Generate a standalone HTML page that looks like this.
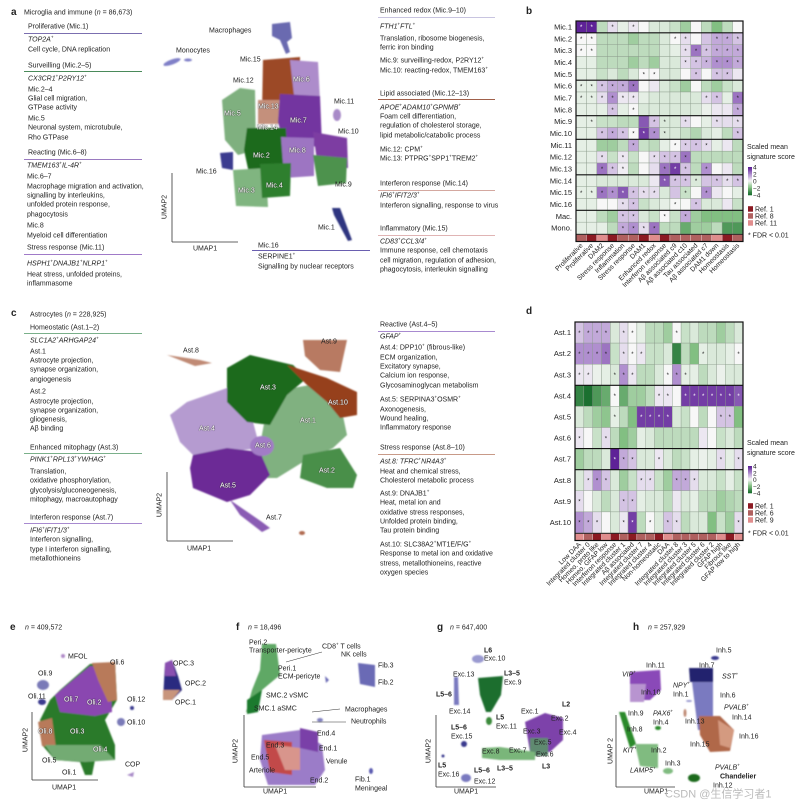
<!DOCTYPE html>
<html><head><meta charset="utf-8">
<style>
body{margin:0;background:#fff;}
#root{position:relative;width:810px;height:805px;overflow:hidden;font-family:"Liberation Sans","Noto Sans CJK SC",sans-serif;color:#222;}
.t{position:absolute;font-size:7px;line-height:9px;white-space:nowrap;transform:translateY(-4.5px);}
.t sup{font-size:4.5px;vertical-align:3px;line-height:0;}
.pl{position:absolute;font-size:10px;font-weight:bold;transform:translateY(-6px);}
.hl{position:absolute;height:1.2px;}
svg{position:absolute;left:0;top:0;}
</style></head>
<body>
<div id="root">
<svg id="g" width="810" height="805">
<defs><filter id="soft" x="-5%" y="-5%" width="110%" height="110%"><feGaussianBlur stdDeviation="0.7"/></filter></defs>
<!-- panel a UMAP -->
<g filter="url(#soft)">
<path d="M272,24 L290,22 L292,38 L287,42 L290,52 L286,54 L280,40 L272,36Z" fill="#6a6ab0"/>
<ellipse cx="172" cy="62" rx="9" ry="2.5" fill="#8080c8" transform="rotate(-20 172 62)"/>
<ellipse cx="188" cy="60" rx="4" ry="1.5" fill="#8080c8"/>
<path d="M222,100 L240,88 L255,90 L256,150 L238,155 L225,140Z" fill="#7fb07f"/>
<path d="M263,60 L300,57 L300,112 L262,112Z" fill="#9c4a25"/>
<path d="M290,60 L318,62 L320,100 L295,104Z" fill="#ad8ccb"/>
<path d="M258,100 L284,100 L284,124 L258,124Z" fill="#c4907c"/>
<path d="M280,94 L320,96 L322,146 L285,148 L278,122Z" fill="#7334a0"/>
<path d="M247,128 L286,128 L288,175 L250,178 L244,150Z" fill="#1c6b1c"/>
<path d="M281,137 L314,138 L314,176 L284,178Z" fill="#9d74c2"/>
<path d="M313,132 L347,138 L348,168 L318,168Z" fill="#7d3ea2"/>
<path d="M313,155 L347,158 L346,183 L318,186Z" fill="#4d924d"/>
<path d="M233,170 L266,168 L268,207 L236,206Z" fill="#80b580"/>
<path d="M260,164 L291,163 L290,196 L262,198Z" fill="#2f7f2f"/>
<path d="M220,153 L233,152 L233,170 L222,168Z" fill="#3b3b8f"/>
<ellipse cx="337" cy="115" rx="4" ry="6" fill="#a88ac8"/>
<path d="M332,208 L340,208 L352,240 L348,241 L334,215Z" fill="#2f3580"/>
</g>
<line x1="172" y1="173" x2="172" y2="242" stroke="#333" stroke-width="0.8"/>
<line x1="172" y1="242" x2="238" y2="242" stroke="#333" stroke-width="0.8"/>
<!-- panel c UMAP -->
<g filter="url(#soft)">
<path d="M167,355 L200,360 L212,363 L195,366Z" fill="#c08a74"/>
<path d="M303,340 L347,340 L340,372 L320,370 L305,356Z" fill="#b87a62"/>
<path d="M170,415 L187,402 L227,388 L253,422 L260,448 L227,452 L193,455 L180,442Z" fill="#b59bd0"/>
<path d="M270,392 L310,385 L340,402 L347,435 L333,448 L303,462 L277,478 L247,478 L260,445Z" fill="#80b180"/>
<path d="M227,368 L250,355 L293,365 L307,378 L287,395 L270,425 L247,422 L227,402Z" fill="#1e6b1e"/>
<path d="M287,365 L327,378 L357,392 L357,415 L340,418 L327,402 L307,385Z" fill="#963f1c"/>
<path d="M303,455 L340,448 L357,475 L353,488 L327,488 L300,478Z" fill="#4a8f4a"/>
<path d="M193,455 L227,448 L260,452 L270,475 L250,495 L227,502 L193,488 L190,468Z" fill="#6c2c96"/>
<path d="M230,500 L262,522 L270,528 L262,532 L240,515Z" fill="#8a5cb4"/>
<ellipse cx="262" cy="446" rx="12" ry="10" fill="#a27cc6"/>
<ellipse cx="302" cy="533" rx="3" ry="2" fill="#b06a50"/>
</g>
<line x1="167" y1="472" x2="167" y2="541" stroke="#333" stroke-width="0.8"/>
<line x1="167" y1="541" x2="233" y2="541" stroke="#333" stroke-width="0.8"/>
<!-- panel e -->
<g filter="url(#soft)">
<path d="M60,690 L90,664 L115,662 L117,700 L105,720 L115,745 L115,760 L95,760 L92,775 L85,775 L80,762 L55,760 L42,745 L40,720 L50,700Z" fill="#2a7a2a"/>
<path d="M55,695 L90,666 L110,668 L112,712 L95,716 L60,712Z" fill="#8a46b0"/>
<path d="M92,663 L115,662 L117,700 L108,702 L98,680Z" fill="#b87a5a"/>
<path d="M38,722 L52,718 L56,748 L42,746Z" fill="#b87a5a"/>
<path d="M45,745 L100,745 L115,760 L85,762 L55,760Z" fill="#73ab73"/>
<ellipse cx="43" cy="685" rx="6" ry="5" fill="#7a7ab8"/>
<ellipse cx="42" cy="702" rx="4" ry="3" fill="#3b3b8f"/>
<circle cx="63" cy="656" r="2" fill="#b08ac8"/>
<circle cx="132" cy="708" r="2" fill="#3b3b8f"/>
<ellipse cx="121" cy="722" rx="4" ry="4" fill="#7a7ab8"/>
<path d="M165,663 L172,660 L178,676 L182,690 L172,700 L163,700Z" fill="#2a2a80"/>
<path d="M165,663 L172,660 L176,676 L165,676Z" fill="#8a50b0"/>
<path d="M163,690 L180,690 L172,700 L163,700Z" fill="#c8957c"/>
<path d="M127,775 L134,772 L133,777Z" fill="#a88ac8"/>
</g>
<line x1="32" y1="712" x2="32" y2="780" stroke="#333" stroke-width="0.8"/>
<line x1="32" y1="780" x2="98" y2="780" stroke="#333" stroke-width="0.8"/>
<!-- panel f -->
<g filter="url(#soft)">
<path d="M262,644 L276,644 L280,675 L262,690 L252,712 L246,712 L252,690 L260,670Z" fill="#5fa865"/>
<path d="M247,700 L262,690 L258,712 L247,714Z" fill="#1e7a2e"/>
<path d="M262,735 L300,730 L322,745 L325,770 L315,785 L268,785 L260,760Z" fill="#9b7cc8"/>
<path d="M300,728 L318,732 L318,752 L300,748Z" fill="#7a40a8"/>
<path d="M264,740 L292,742 L292,775 L270,772Z" fill="#c24848"/>
<path d="M275,745 L300,748 L300,770 L285,770Z" fill="#d8958c"/>
<path d="M358,663 L375,665 L375,687 L360,684Z" fill="#6a6ab5"/>
<path d="M325,676 L329,680 L326,683Z" fill="#6a6ab5"/>
<ellipse cx="320" cy="720" rx="3" ry="2" fill="#8080c0"/>
<ellipse cx="371" cy="771" rx="2" ry="3" fill="#5a5ab0"/>
</g>
<line x1="286" y1="662" x2="322" y2="652" stroke="#333" stroke-width="0.5"/>
<line x1="312" y1="712" x2="340" y2="709" stroke="#333" stroke-width="0.5"/>
<line x1="312" y1="722" x2="346" y2="722" stroke="#333" stroke-width="0.5"/>
<line x1="244" y1="715" x2="244" y2="787" stroke="#333" stroke-width="0.8"/>
<line x1="244" y1="787" x2="316" y2="787" stroke="#333" stroke-width="0.8"/>
<!-- panel g -->
<g filter="url(#soft)">
<ellipse cx="478" cy="659" rx="6" ry="4" fill="#9a9ad0"/>
<path d="M454,677 L458,677 L459,705 L454,705Z" fill="#7a7ac0"/>
<path d="M478,678 L503,676 L501,695 L491,712 L486,712 L480,695Z" fill="#1e6e2e"/>
<ellipse cx="489" cy="721" rx="3" ry="4" fill="#3a8a3a"/>
<ellipse cx="464" cy="744" rx="3" ry="3" fill="#3b3b8f"/>
<ellipse cx="443" cy="756" rx="1.5" ry="1.5" fill="#3b3b8f"/>
<ellipse cx="466" cy="778" rx="5" ry="4" fill="#7a7ac0"/>
<path d="M525,722 L545,713 L563,718 L563,740 L550,752 L530,752Z" fill="#7d42aa"/>
<path d="M530,738 L548,738 L548,756 L530,756Z" fill="#5e8a70"/>
<path d="M482,748 L500,747 L535,752 L535,760 L500,760 L482,758Z" fill="#7ab67a"/>
</g>
<line x1="436" y1="715" x2="436" y2="787" stroke="#333" stroke-width="0.8"/>
<line x1="436" y1="787" x2="496" y2="787" stroke="#333" stroke-width="0.8"/>
<!-- panel h -->
<g filter="url(#soft)">
<path d="M630,672 L660,670 L661,690 L650,700 L640,700 L630,690Z" fill="#8a4ab8"/>
<path d="M630,684 L646,684 L644,702 L630,702Z" fill="#b894d0"/>
<path d="M689,668 L713,668 L713,682 L690,682Z" fill="#22236e"/>
<path d="M692,682 L713,682 L713,730 L698,730Z" fill="#7a7ac0"/>
<path d="M699,716 L720,716 L734,730 L730,751 L710,752 L700,735Z" fill="#b0674a"/>
<path d="M718,720 L734,730 L730,748 L720,745Z" fill="#d49a80"/>
<ellipse cx="715" cy="658" rx="4" ry="2" fill="#3b3b8f"/>
<path d="M619,712 L625,712 L636,744 L630,748Z" fill="#2a8a2a"/>
<path d="M635,744 L658,744 L658,768 L640,766Z" fill="#80bb80"/>
<ellipse cx="658" cy="728" rx="3" ry="2" fill="#2a8a2a"/>
<ellipse cx="668" cy="771" rx="5" ry="3" fill="#80bb80"/>
<ellipse cx="694" cy="778" rx="6" ry="4" fill="#1e6b1e"/>
<ellipse cx="685" cy="713" rx="1.5" ry="4" fill="#c08a74"/>
<ellipse cx="689" cy="701" rx="3" ry="1" fill="#9a9ad0"/>
</g>
<line x1="616" y1="715" x2="616" y2="787" stroke="#333" stroke-width="0.8"/>
<line x1="616" y1="787" x2="675" y2="787" stroke="#333" stroke-width="0.8"/>
<g id="hmb"></g>
<g id="hmd"></g>
</svg>
</div>
<script>
// ---------- data for heatmap b ----------
const bRows=["Mic.1","Mic.2","Mic.3","Mic.4","Mic.5","Mic.6","Mic.7","Mic.8","Mic.9","Mic.10","Mic.11","Mic.12","Mic.13","Mic.14","Mic.15","Mic.16","Mac.","Mono."];
const bCols=["Proliferative","Proliferative","DAM2","Stress response","Inflammation","Stress response","DAM1","Enhanced redox","Interferon response","Aβ associated c9","Aβ associated c10","Tau associated","Aβ associated c7","DAM1 down","Homeostasis","Homeostasis"];
const bRefs=[8,1,11,1,8,8,1,11,1,8,8,8,8,11,1,8];
const bVals=[
[4,4,-1,0.5,-0.3,0.3,0,-0.5,-0.5,-0.8,-1.5,0,-1,-2,-1,0],
[0,0,-1,-1,-1,-1.5,-1,-1,-0.5,0,0.5,0,1,1.5,1.5,1],
[0,0,-1,-1,-1,-1,-1,-1,-0.5,-0.3,0.5,2.5,1,1.5,1.5,1.5],
[-0.3,-0.3,-1,-1,-1,-1.5,-1,-1.5,-0.5,-0.5,0.5,1,1.3,2,2,1.5],
[-0.3,-0.3,-0.8,-0.5,-1,-0.5,0,0,-0.5,-0.5,0,1,0,1,1,0.3],
[-0.3,-0.3,1,1.5,1.5,2.5,0,0.3,-0.5,-0.8,-1.5,0,-1,-1.5,-0.8,-0.5],
[-0.3,-0.3,0.5,2,0.3,0.3,-0.3,-0.5,-0.5,-0.5,-0.5,-0.5,0.5,1,-0.3,2.5],
[-0.3,-0.3,-0.3,1,-0.3,0,-0.5,-0.5,-0.5,-0.5,-0.5,-0.5,-0.2,0.3,0.3,1.5],
[-0.3,-0.3,-0.8,-0.8,-1,-1,3,1,-0.5,-0.5,0.5,0,-0.3,0.5,0.5,0.5],
[-0.3,-0.3,1,1.5,1,0,3.5,2,-0.5,-0.5,-0.8,-1.2,-0.5,-0.3,-1,1],
[-0.3,-0.3,-1.5,-1.5,-1,1.5,-0.8,-1,-0.3,0,0.8,1,0.5,-0.3,0.3,-1],
[-0.3,-0.3,0.5,-0.8,0.3,-0.8,0,0.5,1,1,2.5,-1,-1,-1,-1,-1],
[-0.3,-0.3,2.5,1,0.2,-1,0,0.5,2.5,3.5,1,-1,2,0,0.3,-1],
[-0.3,-0.3,-0.5,-0.5,-0.5,-0.5,-0.5,0.3,3,1,1,-0.5,1,1,0.5,1],
[-0.3,-0.3,2.5,2,3,1,0.5,0.5,-0.5,1,-0.8,0,2,0.3,0,-0.3],
[-0.3,-0.3,0,0,0.5,1,-0.8,-0.5,-0.3,0,0,1,-0.5,-0.5,0.3,-0.8],
[-0.3,-0.3,-1,-1.5,1,1,-0.5,-0.8,0,-0.8,1.5,-1.5,-2,-2,-2,-2],
[-0.3,-0.3,-0.3,-1,1.5,2,0.5,2.5,-1,-1,-2.5,-1.5,-1.5,-1,-3,-3]];
const bStars=[[0,1,3,5],[0,1,9,10,13,14,15],[0,1,10,11,12,13,14,15],[10,11,12,13,14,15],[6,7,11,13,14],[0,1,2,3,4,5],[0,1,2,3,4,5,12,13,15],[3,5,15],[1,7,8,10,13,15],[2,3,4,5,6,7,8,15],[5,9,10,11,12],[2,4,7,8,9,10],[2,3,4,8,9,10,12],[8,9,10,11,13,14,15],[0,1,2,3,4,5,6,7,10,12],[4,5,9,11],[4,5,8,10],[4,5,6,7]];
const bGroups=[1,5,8,10,13,16];
const bRefNames=["Ref. 1","Ref. 8","Ref. 11"];
// ---------- data for heatmap d ----------
const dRows=["Ast.1","Ast.2","Ast.3","Ast.4","Ast.5","Ast.6","Ast.7","Ast.8","Ast.9","Ast.10"];
const dCols=["Low DAA","Integrated cluster 0","Homeo. proto like","Homeo. GFAP low","Interferon response","Integrated cluster 1","Aβ associated","Integrated cluster 7","Integrated cluster 4","Non-homeostatic","DAA","Integrated cluster 8","Integrated cluster 3","Integrated cluster 5","Integrated cluster 6","Integrated cluster 2","GFAP high","Fibrous like","GFAP low to high"];
const dRefs=[9,6,1,9,1,6,1,6,6,1,9,6,6,6,6,6,9,1,9];
const dVals=[
[1,1.5,1.5,1.5,-0.5,0.5,0,-0.3,-1,-1,-1.5,0,-0.8,-0.5,-1,-1,-1.5,-1,-0.5],
[2,2,2,2.5,-0.8,0.5,0,0.3,-0.8,-0.8,-0.5,-3.5,-1,-2,-0.3,-0.5,-0.5,-0.3,0],
[0.3,0.3,-0.2,-0.3,-0.5,2,0.3,-1,-1,-0.5,0,2,-0.3,-0.3,-1,-0.5,-0.2,-0.5,-0.5],
[-3.5,-4,-3,-2.5,0,-2.5,-1.5,-1.5,-1,0.3,0.3,0,3.5,3.5,3.5,3.5,3.5,3.5,3],
[-0.5,-1,-1.5,-1.8,-0.3,-1,-2,3.5,3.5,3.5,3.5,-0.5,-0.8,0,-1,0,1,1,-2],
[0.3,0,-0.8,0.5,-1,-2,-1.5,-0.3,-0.5,-1,-1,-1,-1,-1,0.3,0,-0.8,-0.5,-1],
[-1.5,-1,-1,-0.5,4,1.5,1,-0.5,-0.5,0.3,-0.5,-1,-0.8,-0.3,-0.2,-0.3,0.5,-0.3,0.5],
[-0.5,0.5,2,1,-0.5,-1.5,-0.8,0.5,0.5,-0.8,-1.5,1.5,1.5,0.5,-0.5,-0.5,-0.8,-0.3,-0.8],
[0.5,0,-0.5,-1,-0.5,1,1,-0.3,-0.5,-0.5,-1,0.3,-0.5,-0.3,-1,-1,-1.5,-1.2,-1],
[2,1.5,0.5,0,-0.5,0.3,3.5,-1,0,-0.5,1,0.5,-1,-0.5,-0.5,-2,-0.8,-1.5,0.5]];
const dStars=[[0,1,2,3,5,6,11],[0,1,2,3,5,6,7,14,18],[0,1,4,5,6,10,11,12],[4,9,10,12,13,14,15,16,17,18],[4,7,8,9,10,16,17],[0,3],[4,5,6,9,16,18],[1,2,3,7,8,11,12,13],[0,5,6],[0,1,2,5,6,8,10,11,18]];
const dGroups=[3,6,7];
const dRefNames=["Ref. 1","Ref. 6","Ref. 9"];

const NS="http://www.w3.org/2000/svg";
const refColor={1:"#8b1a22",6:"#b0605f",8:"#b0605f",9:"#e08d8d",11:"#e08d8d"};
function lerp(a,b,t){return Math.round(a+(b-a)*t);}
function hex(c){return [parseInt(c.substr(1,2),16),parseInt(c.substr(3,2),16),parseInt(c.substr(5,2),16)];}
const stops=[[-4,"#1b7030"],[-2,"#82bf82"],[0,"#f7f7f7"],[2,"#b08fcf"],[4,"#5e2297"]];
function colorOf(v){v=Math.max(-4,Math.min(4,v));for(let i=0;i<stops.length-1;i++){const [a,ca]=stops[i],[b,cb]=stops[i+1];if(v<=b){const t=(v-a)/(b-a),A=hex(ca),B=hex(cb);return `rgb(${lerp(A[0],B[0],t)},${lerp(A[1],B[1],t)},${lerp(A[2],B[2],t)})`;}}return stops[4][1];}
function mk(tag,attrs,parent){const e=document.createElementNS(NS,tag);for(const k in attrs)e.setAttribute(k,attrs[k]);parent.appendChild(e);return e;}

function heatmap(gid,rows,cols,vals,stars,groups,refs,refNames,x0,x1,y0,y1,refH,leg){
  const g=document.getElementById(gid);
  const xs=v=>x0+(x1-x0)/cols.length*v;
  const ys=v=>y0+(y1-y0)/rows.length*v;
  const cw=(x1-x0)/cols.length,ch=(y1-y0)/rows.length;
  rows.forEach((r,i)=>{
    cols.forEach((c,j)=>{
      const rc=mk("rect",{x:xs(j),y:ys(i),width:cw,height:ch,fill:colorOf(vals[i][j]),stroke:"#8a9a8a","stroke-width":0.4},g);
      
      
      if(stars[i].includes(j)){
        const s=mk("text",{x:xs(j)+cw/2,y:ys(i)+ch/2+2.2,"text-anchor":"middle","font-size":"6",fill:Math.abs(vals[i][j])>2.8?"#fff":"#222"},g);
        s.textContent="*";
        
        
      }
    });
    const lb=mk("text",{x:x0-4,y:ys(i)+ch/2+2.5,"text-anchor":"end","font-size":"7.5",fill:"#222"},g);
    lb.textContent=r;
    
    
  });
  cols.forEach((c,j)=>{
    const rr=mk("rect",{x:xs(j),y:y1+0.5,width:cw,height:refH,fill:refColor[refs[j]],stroke:"#fff","stroke-width":0.3},g);
    
    
    const cx=xs(j)+cw/2+2,cy=y1+refH+5;
    const t=mk("text",{x:cx,y:cy,"text-anchor":"end","font-size":"6.8",fill:"#222",transform:`rotate(-45 ${cx} ${cy})`},g);
    t.textContent=c;
    
    
  });
  mk("rect",{x:x0,y:y0,width:x1-x0,height:y1-y0+refH+0.5,fill:"none",stroke:"#111","stroke-width":1.2},g);
  groups.forEach(k=>{const l=mk("line",{x1:x0,x2:x1,y1:ys(k),y2:ys(k),stroke:"#111","stroke-width":1.1},g);
    
    });
  mk("line",{x1:x0,x2:x1,y1:y1+0.3,y2:y1+0.3,stroke:"#111","stroke-width":0.8},g);
  const L=leg;
  const t1=mk("text",{x:L.x,y:L.t1,"font-size":"7","fill":"#222"},g);t1.textContent="Scaled mean";
  
  const t2=mk("text",{x:L.x,y:L.t1+10,"font-size":"7",fill:"#222"},g);t2.textContent="signature score";
  
  const n=20;for(let k=0;k<n;k++){mk("rect",{x:L.x+1,y:L.cb0+(L.cb1-L.cb0)*k/n,width:4,height:(L.cb1-L.cb0)/n+0.3,fill:colorOf(4-8*k/(n-1))},g);}
  ["4","2","0","−2","−4"].forEach((s,k)=>{const tt=mk("text",{x:L.x+6,y:L.cb0+2.5+(L.cb1-L.cb0)*k/4,"font-size":"6.5",fill:"#222"},g);tt.textContent=s;
    });
  [1,refNames===bRefNames?8:6,refNames===bRefNames?11:9].forEach((r,k)=>{
    mk("rect",{x:L.x+1,y:L.r0+k*7-2.8,width:5,height:5.5,fill:refColor[r]},g);
    const tt=mk("text",{x:L.x+8,y:L.r0+k*7+2.5,"font-size":"7",fill:"#222"},g);tt.textContent=refNames[k];
    
  });
  const f=mk("text",{x:L.x+1,y:L.fdr+2.5,"font-size":"7",fill:"#222"},g);f.textContent="* FDR < 0.01";
  
}
heatmap("hmb",bRows,bCols,bVals,bStars,bGroups,bRefs,bRefNames,576,743,21,234,7,{x:747,t1:149,cb0:167,cb1:195,r0:209,fdr:235});
heatmap("hmd",dRows,dCols,dVals,dStars,dGroups,dRefs,dRefNames,575,743,322,533,7,{x:747,t1:445,cb0:466,cb1:493,r0:506,fdr:533});

const root=document.getElementById('root');
function T(x,y,html,name,extra){
  const d=document.createElement('div');
  d.className='t';d.style.left=x+'px';d.style.top=y+'px';d.innerHTML=html;
  if(extra)d.style.cssText+=extra;
  
  
  root.appendChild(d);
}
function P(x,y,l){const d=document.createElement('div');d.className='pl';d.style.left=x+'px';d.style.top=y+'px';d.textContent=l;
  
  
  root.appendChild(d);}
function H(x1,x2,y,c){const d=document.createElement('div');d.className='hl';d.style.left=x1+'px';d.style.width=(x2-x1)+'px';d.style.top=y+'px';d.style.background=c;
  
  
  root.appendChild(d);}
const S='<sup>+</sup>';
P(11,13,'a');P(526,12,'b');P(11,314,'c');P(526,312,'d');P(10,628,'e');P(236,628,'f');P(437,628,'g');P(633,628,'h');
[[24,13,'Microglia and immune (<i>n</i> = 86,673)'],[28,27,'Proliferative (Mic.1)'],[28,40,'<i>TOP2A</i>'+S],[28,50,'Cell cycle, DNA replication'],
[28,66,'Surveilling (Mic.2–5)'],[28,79,'<i>CX3CR1</i>'+S+'<i>P2RY12</i>'+S],[28,90,'Mic.2–4'],[28,99,'Glial cell migration,'],[28,108,'GTPase activity'],[28,119,'Mic.5'],[28,128,'Neuronal system, microtubule,'],[28,138,'Rho GTPase'],
[28,153,'Reacting (Mic.6–8)'],[27,166,'<i>TMEM163</i>'+S+'<i>IL-4R</i>'+S],[27,177,'Mic.6–7'],[27,187,'Macrophage migration and activation,'],[27,196,'signalling by interleukins,'],[27,205,'unfolded protein response,'],[27,215,'phagocytosis'],[27,226,'Mic.8'],[27,236,'Myeloid cell differentiation'],[27,248,'Stress response (Mic.11)'],[27,264,'<i>HSPH1</i>'+S+'<i>DNAJB1</i>'+S+'<i>NLRP1</i>'+S],[27,275,'Heat stress, unfolded proteins,'],[27,284,'inflammasome'],
[380,11,'Enhanced redox (Mic.9–10)'],[380,27,'<i>FTH1</i>'+S+'<i>FTL</i>'+S],[380,39,'Translation, ribosome biogenesis,'],[380,48,'ferric iron binding'],[380,61,'Mic.9: surveilling-redox, P2RY12'+S],[380,71,'Mic.10: reacting-redox, TMEM163'+S],
[380,94,'Lipid associated (Mic.12–13)'],[380,108,'<i>APOE</i>'+S+'<i>ADAM10</i>'+S+'<i>GPNMB</i>'+S],[380,117,'Foam cell differentiation,'],[380,126,'regulation of cholesterol storage,'],[380,136,'lipid metabolic/catabolic process'],[380,150,'Mic.12: CPM'+S],[380,159,'Mic.13: PTPRG'+S+'SPP1'+S+'TREM2'+S],
[380,184,'Interferon response (Mic.14)'],[380,196,'<i>IFI6</i>'+S+'<i>IFIT2/3</i>'+S],[380,206,'Interferon signalling, response to virus'],[380,229,'Inflammatory (Mic.15)'],[380,242,'<i>CD83</i>'+S+'<i>CCL3/4</i>'+S],[380,251,'Immune response, cell chemotaxis'],[380,261,'cell migration, regulation of adhesion,'],[380,270,'phagocytosis, interleukin signalling'],
[258,246,'Mic.16'],[258,257,'SERPINE1'+S],[258,267,'Signalling by nuclear receptors'],
[209,31,'Macrophages'],[176,51,'Monocytes'],[240,60,'Mic.15'],[233,81,'Mic.12'],[334,102,'Mic.11'],[338,132,'Mic.10'],[196,172,'Mic.16'],[335,185,'Mic.9'],[318,228,'Mic.1'],[193,249,'UMAP1'],
[30,315,'Astrocytes (<i>n</i> = 228,925)'],[30,328,'Homeostatic (Ast.1–2)'],[30,341,'<i>SLC1A2</i>'+S+'<i>ARHGAP24</i>'+S],[30,352,'Ast.1'],[30,361,'Astrocyte projection,'],[30,370,'synapse organization,'],[30,380,'angiogenesis'],[30,392,'Ast.2'],[30,402,'Astrocyte projection,'],[30,411,'synapse organization,'],[30,420,'gliogenesis,'],[30,429,'Aβ binding'],
[30,448,'Enhanced mitophagy (Ast.3)'],[30,460,'<i>PINK1</i>'+S+'<i>RPL13</i>'+S+'<i>YWHAG</i>'+S],[30,472,'Translation,'],[30,481,'oxidative phosphorylation,'],[30,491,'glycolysis/gluconeogenesis,'],[30,500,'mitophagy, macroautophagy'],[30,518,'Interferon response (Ast.7)'],[30,531,'<i>IFI6</i>'+S+'<i>IFIT1/3</i>'+S],[30,540,'Interferon signalling,'],[30,550,'type I interferon signalling,'],[30,559,'metallothioneins'],
[380,325,'Reactive (Ast.4–5)'],[380,337,'<i>GFAP</i>'+S],[380,348,'Ast.4: DPP10'+S+' (fibrous-like)'],[380,358,'ECM organization,'],[380,367,'Excitatory synapse,'],[380,376,'Calcium ion response,'],[380,386,'Glycosaminoglycan metabolism'],[380,400,'Ast.5: SERPINA3'+S+'OSMR'+S],[380,410,'Axonogenesis,'],[380,419,'Wound healing,'],[380,428,'Inflammatory response'],
[380,448,'Stress response (Ast.8–10)'],[380,462,'<i>Ast.8: TFRC</i>'+S+'<i>NR4A3</i>'+S],[380,472,'Heat and chemical stress,'],[380,481,'Cholesterol metabolic process'],[380,494,'Ast.9: DNAJB1'+S],[380,503,'Heat, metal ion and'],[380,513,'oxidative stress responses,'],[380,522,'Unfolded protein binding,'],[380,531,'Tau protein binding'],[380,545,'Ast.10: SLC38A2'+S+'MT1E/F/G'+S],[380,554,'Response to metal ion and oxidative'],[380,564,'stress, metallothioneins, reactive'],[380,573,'oxygen species'],
[183,351,'Ast.8'],[321,342,'Ast.9'],[266,518,'Ast.7'],[187,549,'UMAP1'],
[25,628,'<i>n</i> = 409,572'],[68,657,'MFOL'],[110,663,'Oli.6'],[38,674,'Oli.9'],[28,697,'Oli.11'],[42,761,'Oli.5'],[62,773,'Oli.1'],[125,765,'COP'],[127,700,'Oli.12'],[127,723,'Oli.10'],[173,664,'OPC.3'],[185,684,'OPC.2'],[175,703,'OPC.1'],[52,788,'UMAP1'],
[248,628,'<i>n</i> = 18,496'],[249,643,'Peri.2'],[249,651,'Transporter-pericyte'],[278,669,'Peri.1'],[278,677,'ECM-pericyte'],[322,647,'CD8'+S+' T cells'],[341,655,'NK cells'],[378,666,'Fib.3'],[378,683,'Fib.2'],[266,696,'SMC.2 vSMC'],[254,709,'SMC.1 aSMC'],[345,710,'Macrophages'],[351,722,'Neutrophils'],[317,734,'End.4'],[266,746,'End.3'],[319,749,'End.1'],[251,758,'End.5'],[326,762,'Venule'],[249,771,'Arteriole'],[310,781,'End.2'],[263,792,'UMAP1'],[355,780,'Fib.1'],[355,789,'Meningeal'],
[450,628,'<i>n</i> = 647,400'],[484,659,'Exc.10'],[453,675,'Exc.13'],[504,683,'Exc.9'],[449,712,'Exc.14'],[521,712,'Exc.1'],[551,719,'Exc.2'],[496,727,'Exc.11'],[523,732,'Exc.3'],[559,733,'Exc.4'],[451,737,'Exc.15'],[534,743,'Exc.5'],[509,751,'Exc.7'],[482,752,'Exc.8'],[536,755,'Exc.6'],[438,775,'Exc.16'],[474,782,'Exc.12'],[454,792,'UMAP1'],
[648,628,'<i>n</i> = 257,929'],[716,651,'Inh.5'],[646,666,'Inh.11'],[622,675,'<i>VIP</i>'+S],[699,666,'Inh.7'],[722,677,'<i>SST</i>'+S],[673,686,'<i>NPY</i>'+S],[673,695,'Inh.1'],[641,693,'Inh.10'],[720,696,'Inh.6'],[724,708,'<i>PVALB</i>'+S],[628,714,'Inh.9'],[653,714,'<i>PAX6</i>'+S],[732,718,'Inh.14'],[653,723,'Inh.4'],[685,722,'Inh.13'],[627,730,'Inh.8'],[739,737,'Inh.16'],[690,745,'Inh.15'],[623,751,'<i>KIT</i>'+S],[651,751,'Inh.2'],[665,764,'Inh.3'],[630,771,'<i>LAMP5</i>'+S],[715,768,'<i>PVALB</i>'+S],[713,786,'Inh.12'],[644,792,'UMAP1']
].forEach(a=>T(a[0],a[1],a[2],'text-label'));
[[484,651,'L6'],[504,674,'L3–5'],[436,695,'L5–6'],[562,705,'L2'],[496,718,'L5'],[451,728,'L5–6'],[497,769,'L3–5'],[542,767,'L3'],[438,766,'L5'],[474,771,'L5–6'],[720,777,'Chandelier']].forEach(a=>T(a[0],a[1],a[2],'layer-label','font-weight:bold;'));
const halo='color:#fff;text-shadow:0 0 1px #333,0 0 1px #333;';
[[224,114,'Mic.5'],[258,107,'Mic.13'],[293,80,'Mic.6'],[290,121,'Mic.7'],[257,128,'Mic.14'],[253,156,'Mic.2'],[289,151,'Mic.8'],[238,191,'Mic.3'],[266,186,'Mic.4'],
[260,388,'Ast.3'],[328,403,'Ast.10'],[300,421,'Ast.1'],[199,429,'Ast.4'],[255,446,'Ast.6'],[319,471,'Ast.2'],[220,486,'Ast.5'],
[64,700,'Oli.7'],[87,703,'Oli.2'],[38,732,'Oli.8'],[70,732,'Oli.3'],[93,750,'Oli.4']].forEach(a=>T(a[0],a[1],a[2],'cluster-label',halo));
[[165,207],[160,505],[26,740],[236,751],[429,751]].forEach(p=>T(p[0]-12,p[1],'UMAP2','axis-title','transform:translateY(-4.5px) rotate(-90deg);'));
T(598,751,'UMAP 2','axis-title','transform:translateY(-4.5px) rotate(-90deg);');
H(24,142,33,'#7b6fb0');H(24,142,71,'#4a8a5a');H(24,142,159,'#9a7ac0');H(24,142,254,'#a07ac8');
H(378,495,17,'#c8c4e0');H(378,495,99,'#a0604a');H(378,495,190,'#d4a8a0');H(378,495,235,'#e0b4b4');H(252,370,250,'#6a5fb0');
H(24,142,333,'#7ab08a');H(24,142,453,'#7ab08a');H(24,142,523,'#a88ad0');H(378,495,331,'#a88ad0');H(378,495,454,'#c89a88');
T(665,795,'CSDN @生信学习者1','watermark','font-size:11px;color:#bbb;');
</script>
</body></html>
